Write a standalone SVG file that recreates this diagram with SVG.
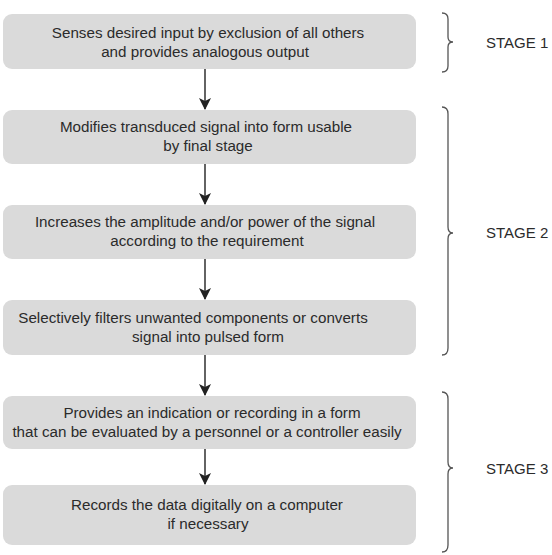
<svg xmlns="http://www.w3.org/2000/svg" width="552" height="555" viewBox="0 0 552 555">
<defs>
<style>
.box{fill:#dadada;stroke:none}
.t{font-family:"Liberation Sans",Arial,sans-serif;font-size:15.2px;fill:#2b2b2b;text-anchor:middle}
.s{font-family:"Liberation Sans",Arial,sans-serif;font-size:15px;fill:#2b2b2b}
.c{stroke:#222;stroke-width:1.4;fill:none}
.br{stroke:#555;stroke-width:1.3;fill:none}
</style>
<marker id="ah" markerWidth="12" markerHeight="14" refX="11" refY="6" orient="auto" markerUnits="userSpaceOnUse">
<path d="M0,0 L12,6 L0,12 L3,6 Z" fill="#222"/>
</marker>
</defs>
<rect width="552" height="555" fill="#fff"/>
<g id="connectors">
<line class="c" x1="205" y1="69" x2="205" y2="109" marker-end="url(#ah)"/>
<line class="c" x1="205" y1="164" x2="205" y2="204" marker-end="url(#ah)"/>
<line class="c" x1="205" y1="259" x2="205" y2="299" marker-end="url(#ah)"/>
<line class="c" x1="205" y1="355" x2="205" y2="395" marker-end="url(#ah)"/>
<line class="c" x1="205" y1="449" x2="205" y2="484" marker-end="url(#ah)"/>
</g>
<g id="n1"><rect class="box" x="3" y="14" width="413" height="55" rx="9"/>
<text class="t" x="208" y="38">Senses desired input by exclusion of all others</text>
<text class="t" x="205" y="57">and provides analogous output</text></g>
<g id="n2"><rect class="box" x="3" y="110" width="413" height="54" rx="9"/>
<text class="t" x="206" y="132">Modifies transduced signal into form usable</text>
<text class="t" x="208" y="151">by final stage</text></g>
<g id="n3"><rect class="box" x="3" y="205" width="413" height="54" rx="9"/>
<text class="t" x="205" y="227">Increases the amplitude and/or power of the signal</text>
<text class="t" x="207" y="246">according to the requirement</text></g>
<g id="n4"><rect class="box" x="3" y="300" width="413" height="55" rx="9"/>
<text class="t" x="193" y="323">Selectively filters unwanted components or converts</text>
<text class="t" x="208" y="342">signal into pulsed form</text></g>
<g id="n5"><rect class="box" x="3" y="396" width="413" height="53" rx="9"/>
<text class="t" x="212" y="418">Provides an indication or recording in a form</text>
<text class="t" x="207" y="437">that can be evaluated by a personnel or a controller easily</text></g>
<g id="n6"><rect class="box" x="3" y="485" width="413" height="60" rx="9"/>
<text class="t" x="207" y="510">Records the data digitally on a computer</text>
<text class="t" x="208" y="529">if necessary</text></g>
<g id="stage1">
<path class="br" d="M442,13 Q448,13 448,19 L448,37 Q448,42 453,42 Q448,42 448,47 L448,66 Q448,72 442,72"/>
<text class="s" x="486" y="48">STAGE 1</text></g>
<g id="stage2">
<path class="br" d="M442,107 Q448,107 448,114 L448,227 Q448,233 453,233 Q448,233 448,239 L448,348 Q448,355 442,355"/>
<text class="s" x="486" y="238">STAGE 2</text></g>
<g id="stage3">
<path class="br" d="M442,392 Q448,392 448,399 L448,462 Q448,468 453,468 Q448,468 448,474 L448,545 Q448,552 442,552"/>
<text class="s" x="486" y="474">STAGE 3</text></g>
</svg>
